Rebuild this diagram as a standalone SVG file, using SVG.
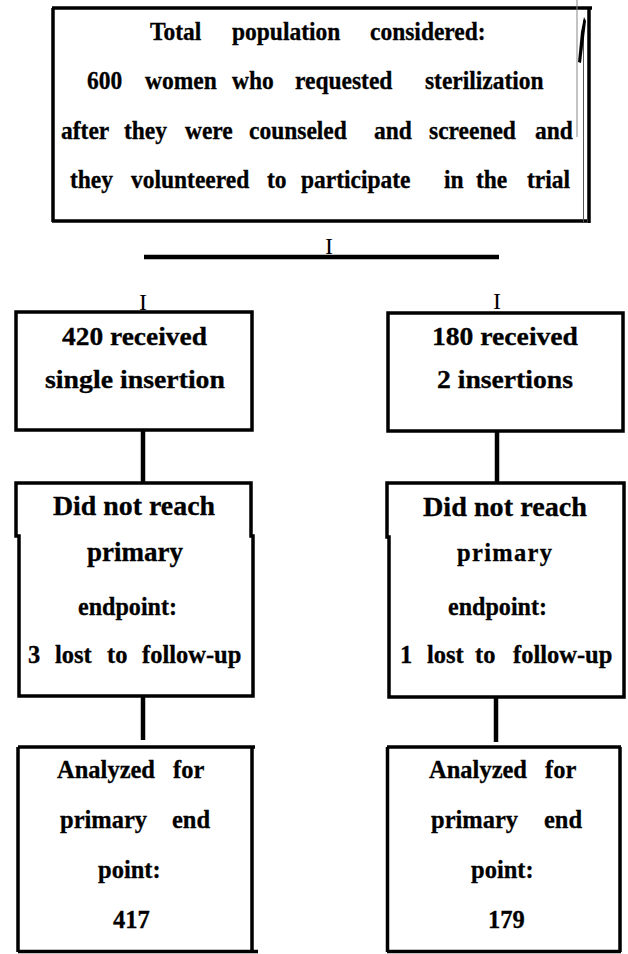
<svg xmlns="http://www.w3.org/2000/svg" width="628" height="954" viewBox="0 0 628 954">
  <style>
    .box { fill: none; stroke: #000; stroke-width: 3.5; stroke-linejoin: miter; }
    .link { fill: none; stroke: #000; stroke-width: 4.5; }
    .t { font-family: "Liberation Serif", "Times New Roman", serif; font-weight: bold; fill: #000; stroke: #000; stroke-width: 0.3; }
    .top { font-size: 23.5px; }
    .mid { font-size: 25px; }
    .dnr { font-size: 27px; }
    .sm { font-size: 24.5px; }
    .bar { font-family: "Liberation Serif", "Times New Roman", serif; font-size: 24px; fill: #000; text-anchor: middle; }
  </style>
  <rect width="628" height="954" fill="#fff"/>

  <!-- Enrolment box -->
  <g id="population">
    <path class="box" d="M52 8 H592 M53 8 V222 M52 221 H587 M589 8 V223"/>
    <line x1="577" y1="0" x2="577" y2="137" stroke="#888" stroke-width="1"/>
    <line x1="583.5" y1="20" x2="583.5" y2="222" stroke="#555" stroke-width="1"/>
    <polygon points="584,17 586,21 581,63 578,62 581,32" fill="#000"/>
    <!-- lines are set slightly taller than the regular face -->
    <text class="t top" transform="matrix(1 0 0 1.08 0 40)"><tspan x="150">Total</tspan><tspan x="232">population</tspan><tspan x="370">considered:</tspan></text>
    <text class="t top" transform="matrix(1 0 0 1.08 0 89)"><tspan x="87">600</tspan><tspan x="145">women</tspan><tspan x="232">who</tspan><tspan x="295">requested</tspan><tspan x="425">sterilization</tspan></text>
    <text class="t top" transform="matrix(1 0 0 1.08 0 139)"><tspan x="61">after</tspan><tspan x="124">they</tspan><tspan x="185">were</tspan><tspan x="249">counseled</tspan><tspan x="374">and</tspan><tspan x="429">screened</tspan><tspan x="535">and</tspan></text>
    <text class="t top" transform="matrix(1 0 0 1.08 0 188)"><tspan x="70">they</tspan><tspan x="131">volunteered</tspan><tspan x="267">to</tspan><tspan x="301">participate</tspan><tspan x="444">in</tspan><tspan x="476">the</tspan><tspan x="527">trial</tspan></text>
  </g>

  <!-- Arms -->
  <g id="single-insertion">
    <rect class="box" x="16" y="312" width="236" height="118"/>
    <text class="t mid" x="62" y="345" textLength="145" lengthAdjust="spacingAndGlyphs">420 received</text>
    <text class="t mid" x="45" y="388" textLength="180" lengthAdjust="spacingAndGlyphs">single insertion</text>
  </g>
  <g id="two-insertions">
    <rect class="box" x="388" y="313" width="235" height="118"/>
    <text class="t mid" x="432" y="345" textLength="146" lengthAdjust="spacingAndGlyphs">180 received</text>
    <text class="t mid" x="437" y="388" textLength="136" lengthAdjust="spacingAndGlyphs">2 insertions</text>
  </g>

  <!-- Losses to follow-up -->
  <g id="lost-single">
    <path class="box" d="M16 483 H251 V536 H253 V696 H19 V536 H16 Z"/>
    <text class="t dnr" x="53" y="515" textLength="162" lengthAdjust="spacingAndGlyphs">Did not reach</text>
    <text class="t dnr" x="87" y="561" textLength="96" lengthAdjust="spacingAndGlyphs">primary</text>
    <text class="t sm" x="78" y="615" textLength="99" lengthAdjust="spacingAndGlyphs">endpoint:</text>
    <text class="t sm" y="663"><tspan x="28">3</tspan><tspan x="55">lost</tspan><tspan x="107">to</tspan><tspan x="142">follow-up</tspan></text>
  </g>
  <g id="lost-two">
    <path class="box" d="M387 483 H624 V697 H389 V537 H387 Z"/>
    <text class="t dnr" x="423" y="516" textLength="164" lengthAdjust="spacingAndGlyphs">Did not reach</text>
    <text class="t sm" x="457" y="561" textLength="95" lengthAdjust="spacing">primary</text>
    <text class="t sm" x="448" y="615" textLength="99" lengthAdjust="spacingAndGlyphs">endpoint:</text>
    <text class="t sm" y="663"><tspan x="400">1</tspan><tspan x="427">lost</tspan><tspan x="475">to</tspan><tspan x="513">follow-up</tspan></text>
  </g>

  <!-- Analysed -->
  <g id="analyzed-single">
    <path class="box" d="M18 747 H255 M18 747 V952 M252 747 V952 M18 951.5 H258"/>
    <text class="t sm" y="778"><tspan x="57">Analyzed</tspan><tspan x="173">for</tspan></text>
    <text class="t sm" y="828"><tspan x="60">primary</tspan><tspan x="172">end</tspan></text>
    <text class="t sm" x="98" y="878">point:</text>
    <text class="t sm" x="113" y="928">417</text>
  </g>
  <g id="analyzed-two">
    <path class="box" d="M387 747 H621 M387.5 747 V952 M620 747 V952 M387 951.5 H621"/>
    <text class="t sm" y="778"><tspan x="429">Analyzed</tspan><tspan x="545">for</tspan></text>
    <text class="t sm" y="828"><tspan x="431">primary</tspan><tspan x="544">end</tspan></text>
    <text class="t sm" x="471" y="878">point:</text>
    <text class="t sm" x="488" y="928">179</text>
  </g>

  <!-- Connectors -->
  <g id="connectors">
    <text class="bar" x="329" y="254">I</text>
    <line class="link" x1="144" y1="257" x2="499" y2="257" stroke-width="5"/>
    <text class="bar" x="143" y="310">I</text>
    <text class="bar" x="497" y="309">I</text>
    <line class="link" x1="143" y1="430" x2="143" y2="483"/>
    <line class="link" x1="497" y1="431" x2="497" y2="483"/>
    <line class="link" x1="143" y1="697" x2="143" y2="740"/>
    <line class="link" x1="496" y1="698" x2="496" y2="742"/>
  </g>
</svg>
